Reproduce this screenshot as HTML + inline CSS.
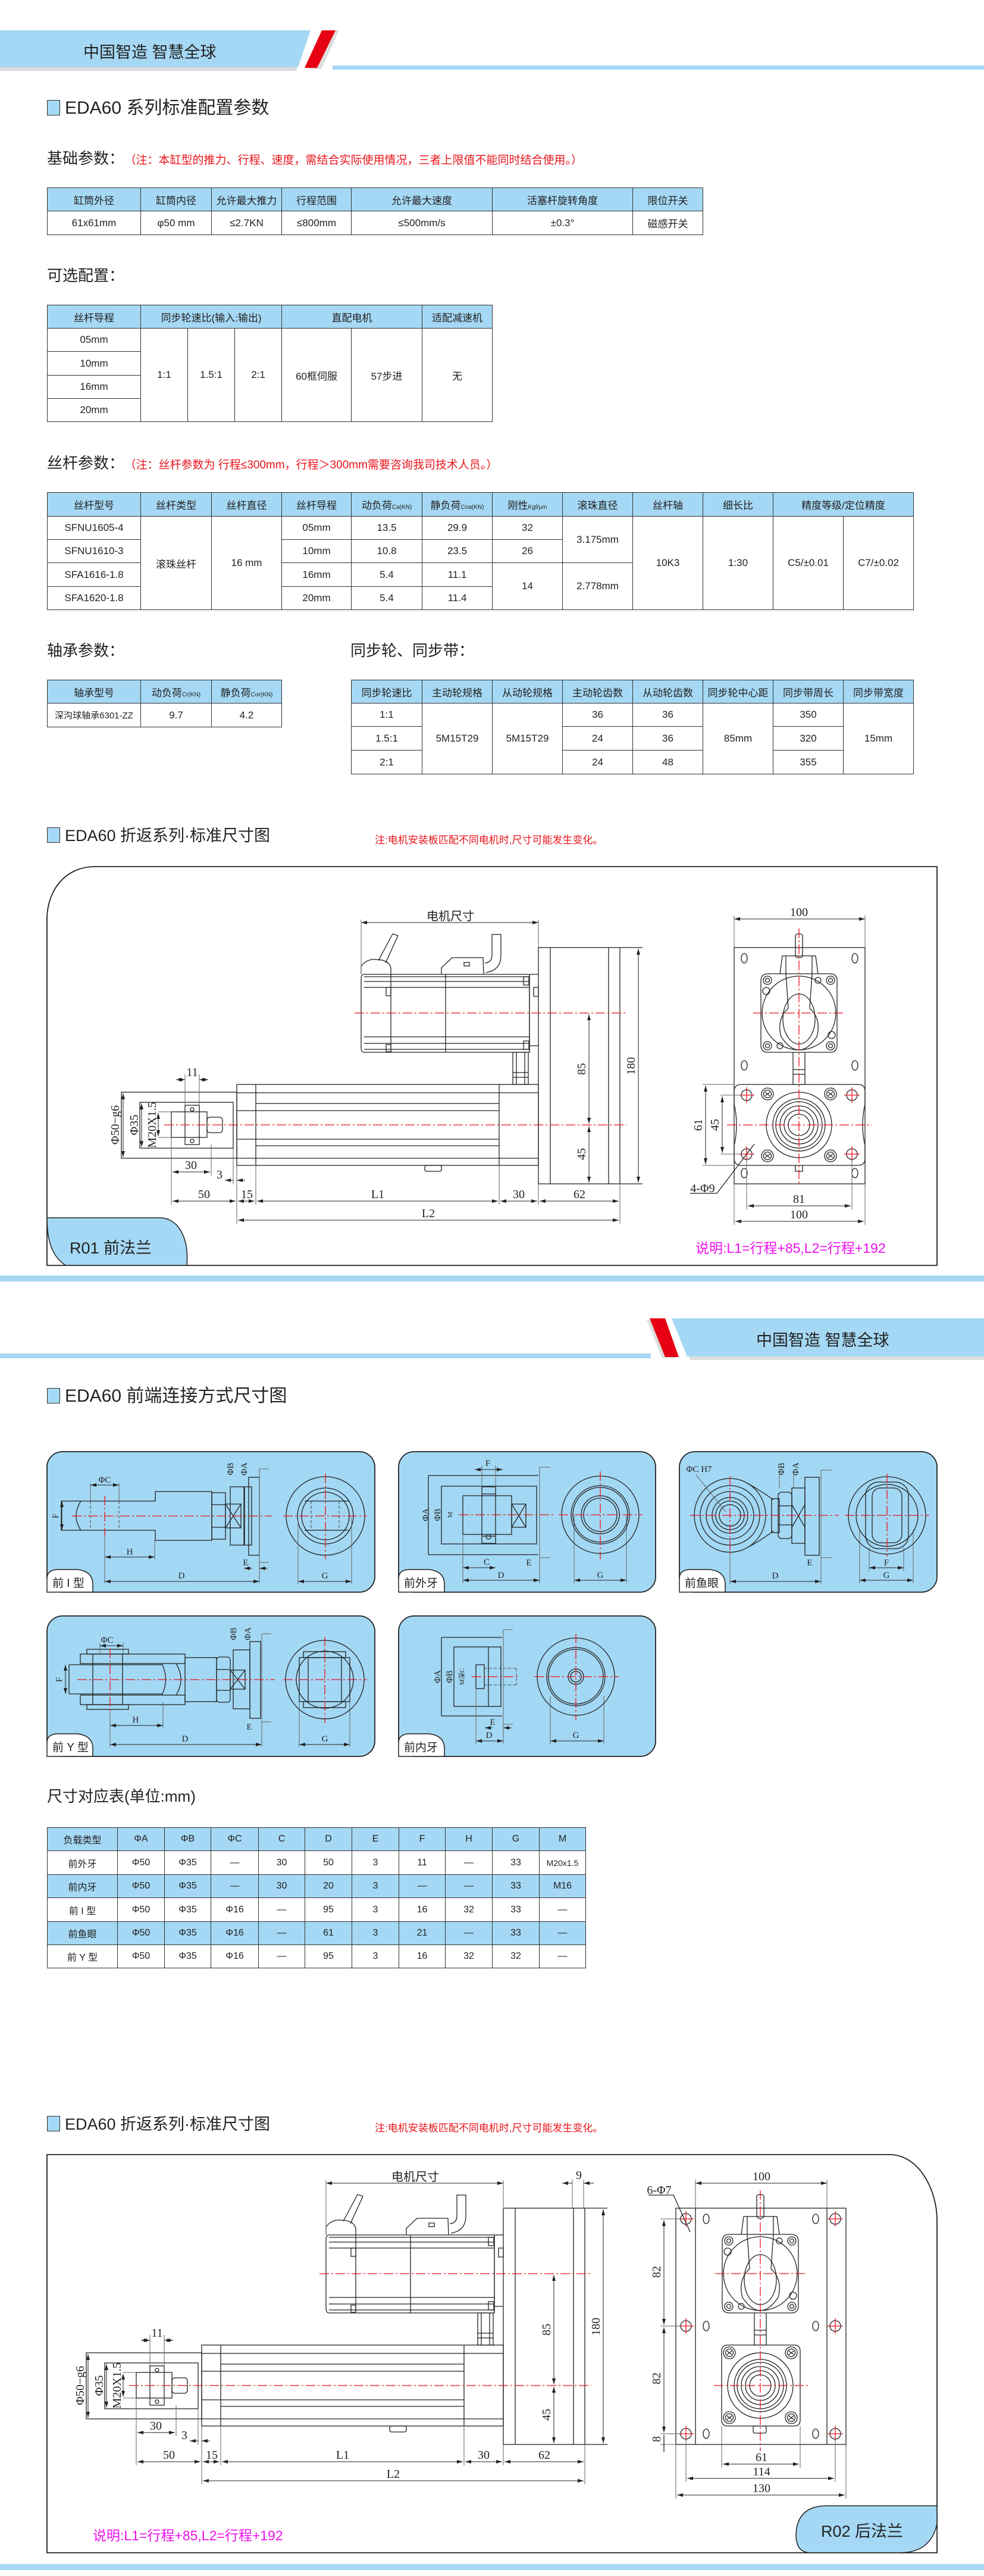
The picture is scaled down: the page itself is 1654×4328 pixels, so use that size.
<!DOCTYPE html>
<html><head><meta charset="utf-8">
<style>
html,body{margin:0;padding:0;background:#fff}
body{width:1654px;height:4328px;position:relative;overflow:hidden;font-family:"Liberation Sans","Noto Sans CJK SC",sans-serif;color:#222}
.a{position:absolute;white-space:nowrap}
.ttl{font-size:30px;line-height:34px}
.sq{display:inline-block;width:20px;height:24px;background:#a5d8f4;border:1.5px solid #333;vertical-align:-3px;margin-right:8px}
.sub{font-size:26px}
.red{color:#e8141b;font-size:19px}
table{position:absolute;border-collapse:collapse;table-layout:fixed;font-size:17px}
td{border:1.5px solid #333;text-align:center;padding:0;color:#222;white-space:nowrap;overflow:hidden}
td.h,tr.h td{background:#a5d8f4}
small{font-size:10px}
</style></head><body>

<!-- header 1 -->
<svg class="a" style="left:0;top:0" width="1654" height="130">
<polygon points="0,56 516,56 498,119 0,119" fill="#ddd"/>
<polygon points="0,51 522,51 501,113 0,113" fill="#a5d8f4"/>
<polygon points="546,51 570,51 540,116 519,116" fill="#ddd"/>
<polygon points="541,51 564,51 533,114 512,114" fill="#e60012"/>
<rect x="559" y="110" width="1095" height="7" fill="#a5d8f4"/>
</svg>
<div class="a" style="left:140px;top:66px;font-size:27px">中国智造 智慧全球</div>

<div class="a ttl" style="left:79px;top:165px"><span class="sq"></span>EDA60 系列标准配置参数</div>
<div class="a sub" style="left:79px;top:246px">基础参数：<span class="red" style="margin-left:10px">（注：本缸型的推力、行程、速度，需结合实际使用情况，三者上限值不能同时结合使用。）</span></div>

<table style="left:79px;top:315px;width:1102px">
<colgroup><col style="width:157px"><col style="width:119px"><col style="width:118px"><col style="width:117px"><col style="width:237px"><col style="width:236px"><col style="width:118px"></colgroup>
<tr class="h" style="height:39px"><td>缸筒外径</td><td>缸筒内径</td><td>允许最大推力</td><td>行程范围</td><td>允许最大速度</td><td>活塞杆旋转角度</td><td>限位开关</td></tr>
<tr style="height:40px"><td>61x61mm</td><td>φ50 mm</td><td>≤2.7KN</td><td>≤800mm</td><td>≤500mm/s</td><td>±0.3°</td><td>磁感开关</td></tr>
</table>

<div class="a sub" style="left:79px;top:443px">可选配置：</div>
<table style="left:79px;top:512px;width:748px">
<colgroup><col style="width:157px"><col style="width:79px"><col style="width:79px"><col style="width:79px"><col style="width:117px"><col style="width:119px"><col style="width:118px"></colgroup>
<tr class="h" style="height:39px"><td>丝杆导程</td><td colspan="3">同步轮速比(输入:输出)</td><td colspan="2">直配电机</td><td>适配减速机</td></tr>
<tr style="height:39px"><td>05mm</td><td rowspan="4">1:1</td><td rowspan="4">1.5:1</td><td rowspan="4">2:1</td><td rowspan="4">60框伺服</td><td rowspan="4">57步进</td><td rowspan="4">无</td></tr>
<tr style="height:40px"><td>10mm</td></tr>
<tr style="height:39px"><td>16mm</td></tr>
<tr style="height:39px"><td>20mm</td></tr>
</table>

<div class="a sub" style="left:79px;top:758px">丝杆参数：<span class="red" style="margin-left:10px">（注：丝杆参数为 行程≤300mm，行程＞300mm需要咨询我司技术人员。）</span></div>
<table style="left:79px;top:827px;width:1456px">
<colgroup><col style="width:157px"><col style="width:119px"><col style="width:118px"><col style="width:117px"><col style="width:119px"><col style="width:118px"><col style="width:118px"><col style="width:118px"><col style="width:118px"><col style="width:118px"><col style="width:118px"><col style="width:118px"></colgroup>
<tr class="h" style="height:40px"><td>丝杆型号</td><td>丝杆类型</td><td>丝杆直径</td><td>丝杆导程</td><td>动负荷<small>Ca(KN)</small></td><td>静负荷<small>Coa(KN)</small></td><td>刚性<small>Kgf/μm</small></td><td>滚珠直径</td><td>丝杆轴</td><td>细长比</td><td colspan="2">精度等级/定位精度</td></tr>
<tr style="height:39px"><td>SFNU1605-4</td><td rowspan="4">滚珠丝杆</td><td rowspan="4">16 mm</td><td>05mm</td><td>13.5</td><td>29.9</td><td>32</td><td rowspan="2">3.175mm</td><td rowspan="4">10K3</td><td rowspan="4">1:30</td><td rowspan="4">C5/±0.01</td><td rowspan="4">C7/±0.02</td></tr>
<tr style="height:39px"><td>SFNU1610-3</td><td>10mm</td><td>10.8</td><td>23.5</td><td>26</td></tr>
<tr style="height:40px"><td>SFA1616-1.8</td><td>16mm</td><td>5.4</td><td>11.1</td><td rowspan="2">14</td><td rowspan="2">2.778mm</td></tr>
<tr style="height:39px"><td>SFA1620-1.8</td><td>20mm</td><td>5.4</td><td>11.4</td></tr>
</table>

<div class="a sub" style="left:79px;top:1073px">轴承参数：</div>
<div class="a sub" style="left:589px;top:1073px">同步轮、同步带：</div>
<table style="left:79px;top:1142px;width:394px">
<colgroup><col style="width:157px"><col style="width:119px"><col style="width:118px"></colgroup>
<tr class="h" style="height:39px"><td>轴承型号</td><td>动负荷<small>Cr(KN)</small></td><td>静负荷<small>Cor(KN)</small></td></tr>
<tr style="height:40px"><td style="font-size:15px">深沟球轴承6301-ZZ</td><td>9.7</td><td>4.2</td></tr>
</table>
<table style="left:590px;top:1142px;width:945px">
<colgroup><col style="width:119px"><col style="width:118px"><col style="width:118px"><col style="width:118px"><col style="width:118px"><col style="width:118px"><col style="width:118px"><col style="width:118px"></colgroup>
<tr class="h" style="height:39px"><td>同步轮速比</td><td>主动轮规格</td><td>从动轮规格</td><td>主动轮齿数</td><td>从动轮齿数</td><td>同步轮中心距</td><td>同步带周长</td><td>同步带宽度</td></tr>
<tr style="height:39px"><td>1:1</td><td rowspan="3">5M15T29</td><td rowspan="3">5M15T29</td><td>36</td><td>36</td><td rowspan="3">85mm</td><td>350</td><td rowspan="3">15mm</td></tr>
<tr style="height:40px"><td>1.5:1</td><td>24</td><td>36</td><td>320</td></tr>
<tr style="height:40px"><td>2:1</td><td>24</td><td>48</td><td>355</td></tr>
</table>

<div class="a ttl" style="left:79px;top:1387px;font-size:27px"><span class="sq"></span>EDA60 折返系列·标准尺寸图</div>
<div class="a red" style="left:630px;top:1397px;font-size:17px">注:电机安装板匹配不同电机时,尺寸可能发生变化。</div>

<!-- header 2 -->
<svg class="a" style="left:0;top:2140px" width="1654" height="150">
<rect x="0" y="3" width="1654" height="10" fill="#a5d8f4"/>
<polygon points="1134,80 1654,80 1654,145 1160,145" fill="#ddd"/>
<polygon points="1129,75 1654,75 1654,139 1155,139" fill="#a5d8f4"/>
<polygon points="1087,77 1111,77 1137,142 1113,142" fill="#ddd"/>
<polygon points="1092,75 1118,75 1141,140 1118,140" fill="#e60012"/>
<rect x="0" y="134" width="1094" height="8" fill="#a5d8f4"/>
</svg>
<div class="a" style="left:1271px;top:2230px;font-size:27px">中国智造 智慧全球</div>
<div class="a ttl" style="left:79px;top:2329px"><span class="sq"></span>EDA60 前端连接方式尺寸图</div>

<div class="a sub" style="left:79px;top:2998px">尺寸对应表(单位:mm)</div>
<table style="left:79px;top:3070px;width:905px;font-size:16px">
<colgroup><col style="width:118px"><col style="width:79px"><col style="width:78px"><col style="width:80px"><col style="width:78px"><col style="width:79px"><col style="width:79px"><col style="width:78px"><col style="width:79px"><col style="width:79px"><col style="width:78px"></colgroup>
<tr class="h" style="height:39px"><td>负载类型</td><td>ΦA</td><td>ΦB</td><td>ΦC</td><td>C</td><td>D</td><td>E</td><td>F</td><td>H</td><td>G</td><td>M</td></tr>
<tr style="height:40px"><td>前外牙</td><td>Φ50</td><td>Φ35</td><td>—</td><td>30</td><td>50</td><td>3</td><td>11</td><td>—</td><td>33</td><td style="font-size:14px">M20x1.5</td></tr>
<tr class="h" style="height:39px"><td>前内牙</td><td>Φ50</td><td>Φ35</td><td>—</td><td>30</td><td>20</td><td>3</td><td>—</td><td>—</td><td>33</td><td>M16</td></tr>
<tr style="height:40px"><td>前 I 型</td><td>Φ50</td><td>Φ35</td><td>Φ16</td><td>—</td><td>95</td><td>3</td><td>16</td><td>32</td><td>33</td><td>—</td></tr>
<tr class="h" style="height:39px"><td>前鱼眼</td><td>Φ50</td><td>Φ35</td><td>Φ16</td><td>—</td><td>61</td><td>3</td><td>21</td><td>—</td><td>33</td><td>—</td></tr>
<tr style="height:39px"><td>前 Y 型</td><td>Φ50</td><td>Φ35</td><td>Φ16</td><td>—</td><td>95</td><td>3</td><td>16</td><td>32</td><td>32</td><td>—</td></tr>
</table>

<div class="a ttl" style="left:79px;top:3552px;font-size:27px"><span class="sq"></span>EDA60 折返系列·标准尺寸图</div>
<div class="a red" style="left:630px;top:3561px;font-size:17px">注:电机安装板匹配不同电机时,尺寸可能发生变化。</div>

<svg class="a" style="left:0;top:0" width="1654" height="4328" viewBox="0 0 1654 4328">
<defs>
<marker id="ar" viewBox="0 0 10 6" refX="10" refY="3" markerWidth="10" markerHeight="6" orient="auto-start-reverse" markerUnits="userSpaceOnUse"><path d="M0,0 L10,3 L0,6 Z" fill="#222"/></marker>
<style>
.l{stroke:#222;fill:none;stroke-width:1.3}
.g{stroke:#666;fill:none;stroke-width:1}
.d{stroke:#222;fill:none;stroke-width:1;marker-start:url(#ar);marker-end:url(#ar)}
.r{stroke:#e8141b;fill:none;stroke-width:1.3;stroke-dasharray:16 4 3 4}
.dash{stroke:#444;fill:none;stroke-width:1;stroke-dasharray:5 3}
.t{font-family:"Liberation Serif",serif;font-size:20px;fill:#222;text-anchor:middle}
.ts{font-family:"Liberation Serif",serif;font-size:15px;fill:#222;text-anchor:middle}
.ck{font-family:"Liberation Sans","Noto Sans CJK SC",sans-serif;fill:#222}
</style>
<g id="MF">
 <path class="l" d="M-52 -66 H52 Q64 -66 64 -54 V54 Q64 66 52 66 H-52 Q-64 66 -64 54 V-54 Q-64 -66 -52 -66 Z"/>
 <circle class="l" cx="0" cy="0" r="62"/>
 <path class="l" d="M-22 -66 L-18 -8 Q-38 10 -30 40 Q-15 62 0 62 Q15 62 30 40 Q38 10 18 -8 L22 -66"/>
 <ellipse class="l" cx="0" cy="10" rx="27" ry="42"/>
 <circle class="l" cx="-53" cy="-55" r="7"/><circle class="l" cx="-53" cy="-55" r="3.5"/>
 <circle class="l" cx="53" cy="-55" r="7"/><circle class="l" cx="53" cy="-55" r="3.5"/>
 <circle class="l" cx="-53" cy="55" r="7"/><circle class="l" cx="-53" cy="55" r="3.5"/>
 <circle class="l" cx="53" cy="55" r="7"/><circle class="l" cx="53" cy="55" r="3.5"/>
 <circle class="l" cx="-55" cy="-37" r="6"/><circle class="l" cx="55" cy="37" r="6"/>
 <circle class="l" cx="32" cy="-55" r="5"/><circle class="l" cx="-32" cy="55" r="5"/>
 <path class="l" d="M-32 -66 L-28 -96 H28 L32 -66 M-22 -96 V-66 M22 -96 V-66"/>
 <rect class="l" x="-6" y="-133" width="12" height="40" rx="4"/>
 <path class="l" d="M-10 66 V120 H10 V66 M-10 95 H10 M-10 103 H10"/>
</g>
<g id="BC">
 <circle class="l" r="55"/><circle class="l" r="44"/><circle class="l" r="39"/><circle class="l" r="32"/><circle class="l" r="25"/><circle class="l" r="18"/>
</g>
<g id="SC"><circle class="l" r="10"/><circle class="l" r="6.5"/><path class="l" d="M-4 -3 L4 3 M-4 3 L4 -3"/></g>
<g id="HC"><circle class="l" r="9"/><path class="r" style="stroke-dasharray:none" d="M-13 0 H13 M0 -13 V13"/></g>
</defs>

<g id="D1">
 <!-- motor -->
 <path class="l" d="M612 1637 H890 V1768 H612 Q607 1768 607 1760 V1645 Q607 1637 612 1637 Z"/>
 <path class="l" d="M612 1641 H890 M612 1649 H890 M612 1659 H890 M612 1742 H890 M612 1753 H890 M612 1763 H890 M657 1637 V1768 M749 1637 V1768 M890 1637 V1768 M890 1637 H905 M890 1757 H905"/>
 <rect class="l" x="649" y="1659" width="8" height="14"/><rect class="l" x="649" y="1755" width="8" height="12"/>
 <rect class="l" x="880" y="1641" width="9" height="14"/><rect class="l" x="880" y="1749" width="9" height="14"/>
 <rect class="l" x="897" y="1659" width="8" height="15"/>
 <path class="l" d="M607 1637 V1624 Q612 1615 625 1612 L630 1612 Q655 1612 657 1627 V1637"/>
 <path class="l" d="M636 1614 L660 1569 L669 1572 L648 1618"/>
 <path class="l" d="M742 1637 V1626 L760 1609 H812 L813 1637 M817 1634 Q842 1630 842 1605 V1570 H827 V1605 Q827 1617 815 1618"/>
 <rect class="l" x="780" y="1617" width="9" height="6"/>
 <path class="l" d="M862 1768 H888 V1822 H862 Z M862 1802 H888 M862 1810 H888 M868 1768 V1822 M882 1768 V1822"/>
 <!-- plate -->
 <rect class="l" x="905" y="1592" width="137" height="397"/>
 <path class="l" d="M925 1592 V1989 M1023 1592 V1989 M1042 1592 H1080 M1042 1989 H1080"/>
 <line class="d" x1="1073" y1="1594" x2="1073" y2="1987"/>
 <line class="d" x1="990" y1="1704" x2="990" y2="1888"/>
 <line class="d" x1="990" y1="1892" x2="990" y2="1987"/>
 <!-- cylinder -->
 <rect class="l" x="398" y="1822" width="507" height="136"/>
 <path class="l" d="M430 1822 V1958 M839 1822 V1958 M398 1836 H905 M430 1854 H839 M430 1866 H839 M430 1914 H839 M430 1925 H839 M398 1946 H905 M398 1866 H430 M398 1914 H430"/>
 <rect class="l" x="714" y="1958" width="28" height="10" rx="3"/>
 <!-- flange -->
 <rect class="l" x="204" y="1835" width="194" height="111"/>
 <rect class="l" x="235" y="1852" width="157" height="77"/>
 <rect class="l" x="288" y="1868" width="60" height="43"/>
 <rect class="l" x="311" y="1857" width="24" height="66"/>
 <rect class="l" x="348" y="1877" width="26" height="26" rx="5"/>
 <circle class="l" cx="323" cy="1864" r="3"/><circle class="l" cx="323" cy="1917" r="3"/>
 <!-- centerlines -->
 <line class="r" x1="596" y1="1702" x2="1053" y2="1702"/>
 <line class="r" x1="276" y1="1890" x2="1053" y2="1890"/>
 <!-- dims -->
 <line class="d" x1="607" y1="1550" x2="905" y2="1550"/><path class="g" d="M607 1545 V1637 M905 1545 V1592"/>
 <line class="d" x1="207" y1="1837" x2="207" y2="1944"/>
 <line class="d" x1="238" y1="1854" x2="238" y2="1927"/>
 <line class="d" x1="266" y1="1870" x2="266" y2="1909"/>
 <path class="g" d="M266 1868 H288 M266 1911 H288 M311 1805 V1857 M335 1805 V1857"/>
 <line class="d" x1="296" y1="1814" x2="311" y2="1814"/><line class="d" x1="350" y1="1814" x2="335" y2="1814"/>
 <path class="g" d="M288 1911 V2024 M355 1923 V1975 M392 1929 V1990 M398 1958 V2056 M430 1958 V2024 M839 1958 V2024 M905 1989 V2024 M1042 1989 V2056"/>
 <line class="d" x1="290" y1="1969" x2="353" y2="1969"/>
 <path class="d" d="M378 1983 H392 M412 1983 H398"/>
 <line class="d" x1="290" y1="2018" x2="396" y2="2018"/>
 <line class="d" x1="400" y1="2018" x2="428" y2="2018"/>
 <line class="d" x1="432" y1="2018" x2="837" y2="2018"/>
 <line class="d" x1="841" y1="2018" x2="903" y2="2018"/>
 <line class="d" x1="907" y1="2018" x2="1040" y2="2018"/>
 <line class="d" x1="400" y1="2050" x2="1040" y2="2050"/>
</g>
<use href="#D1" transform="translate(-59,2118)"/>

<!-- Frame 1 -->
<path class="l" style="stroke-width:1.8" d="M79 2126 V1545 C79 1495 110 1456 160 1456 H1575 V2126 Z"/>
<path d="M79 2046 H268 C300 2046 318 2080 314 2126 H110 C90 2112 79 2090 79 2046 Z" fill="#a5d8f4" stroke="#222" stroke-width="1.5"/>
<text class="ck" x="117" y="2106" font-size="27">R01 前法兰</text>
<text class="ck" x="1169" y="2105" font-size="23" style="fill:#ee11ee">说明:L1=行程+85,L2=行程+192</text>

<!-- drawing 1 texts -->
<text class="ck" x="757" y="1546" font-size="20" text-anchor="middle">电机尺寸</text>
<text class="t" transform="translate(1067,1791) rotate(-90)">180</text>
<text class="t" transform="translate(984,1796) rotate(-90)">85</text>
<text class="t" transform="translate(984,1939) rotate(-90)">45</text>
<text class="t" transform="translate(200,1890) rotate(-90)">Φ50−g6</text>
<text class="t" transform="translate(232,1890) rotate(-90)">Φ35</text>
<text class="t" transform="translate(262,1890) rotate(-90)">M20X1.5</text>
<text class="t" x="323" y="1808">11</text>
<text class="t" x="321" y="1964">30</text>
<text class="t" x="369" y="1980">3</text>
<text class="t" x="343" y="2013">50</text><text class="t" x="415" y="2013">15</text><text class="t" x="635" y="2013">L1</text><text class="t" x="872" y="2013">30</text><text class="t" x="974" y="2013">62</text>
<text class="t" x="720" y="2045">L2</text>

<!-- right view 1 -->
<rect class="l" x="1234" y="1592" width="220" height="397"/>
<use href="#MF" transform="translate(1343,1702)"/>
<path class="l" d="M1246 1822 H1442 Q1454 1822 1454 1834 V1855 Q1446 1890 1454 1925 V1946 Q1454 1958 1442 1958 H1246 Q1234 1958 1234 1946 V1925 Q1242 1890 1234 1855 V1834 Q1234 1822 1246 1822 Z"/>
<use href="#BC" transform="translate(1343,1890)"/>
<path class="l" d="M1337 1958 V1968 H1349 V1958"/>
<use href="#SC" transform="translate(1290,1838)"/><use href="#SC" transform="translate(1396,1838)"/>
<use href="#SC" transform="translate(1290,1942)"/><use href="#SC" transform="translate(1396,1942)"/>
<use href="#HC" transform="translate(1255,1840)"/><use href="#HC" transform="translate(1432,1840)"/>
<use href="#HC" transform="translate(1255,1939)"/><use href="#HC" transform="translate(1432,1939)"/>
<g class="l"><ellipse cx="1251" cy="1610" rx="5" ry="8"/><ellipse cx="1437" cy="1610" rx="5" ry="8"/><ellipse cx="1251" cy="1790" rx="5" ry="8"/><ellipse cx="1437" cy="1790" rx="5" ry="8"/><ellipse cx="1251" cy="1971" rx="5" ry="8"/><ellipse cx="1437" cy="1971" rx="5" ry="8"/></g>
<line class="r" x1="1343" y1="1560" x2="1343" y2="1990"/>
<line class="r" x1="1266" y1="1702" x2="1420" y2="1702"/>
<line class="r" x1="1222" y1="1890" x2="1466" y2="1890"/>
<line class="d" x1="1234" y1="1544" x2="1454" y2="1544"/><path class="g" d="M1234 1538 V1592 M1454 1538 V1592 M1181 1822 H1234 M1181 1958 H1234 M1211 1840 H1246 M1211 1939 H1246 M1255 1949 V2032 M1432 1949 V2032 M1234 1989 V2058 M1454 1989 V2058"/>
<line class="d" x1="1186" y1="1824" x2="1186" y2="1956"/>
<line class="d" x1="1214" y1="1842" x2="1214" y2="1937"/>
<line class="d" x1="1257" y1="2026" x2="1430" y2="2026"/>
<line class="d" x1="1236" y1="2052" x2="1452" y2="2052"/>
<path class="l" d="M1160 2005 H1205 L1268 1922" stroke-width="1"/>
<text class="t" x="1343" y="1539">100</text>
<text class="t" transform="translate(1180,1890) rotate(-90)">61</text>
<text class="t" transform="translate(1208,1890) rotate(-90)">45</text>
<text class="t" x="1343" y="2021">81</text>
<text class="t" x="1343" y="2047">100</text>
<text class="t" x="1181" y="2003">4-Φ9</text>

<!-- Panels -->
<g fill="#a3d8f4" stroke="#222" stroke-width="1.8">
<rect x="79" y="2439" width="551" height="236" rx="26"/>
<rect x="670" y="2439" width="432" height="236" rx="26"/>
<rect x="1142" y="2439" width="433" height="236" rx="26"/>
<rect x="79" y="2715" width="551" height="236" rx="26"/>
<rect x="670" y="2715" width="432" height="236" rx="26"/>
</g>
<g fill="#fff" stroke="#222" stroke-width="1.5">
<path d="M79 2675 V2652 Q79 2637 98 2637 H130 Q156 2640 156 2662 V2675 Z"/>
<path d="M670 2675 V2652 Q670 2637 689 2637 H721 Q747 2640 747 2662 V2675 Z"/>
<path d="M1142 2675 V2652 Q1142 2637 1161 2637 H1193 Q1219 2640 1219 2662 V2675 Z"/>
<path d="M79 2951 V2928 Q79 2913 98 2913 H130 Q156 2916 156 2938 V2951 Z"/>
<path d="M670 2951 V2928 Q670 2913 689 2913 H721 Q747 2916 747 2938 V2951 Z"/>
</g>
<g class="ck" font-size="19">
<text x="88" y="2666">前 I 型</text><text x="679" y="2666">前外牙</text><text x="1151" y="2666">前鱼眼</text>
<text x="88" y="2942">前 Y 型</text><text x="679" y="2942">前内牙</text>
</g>

<!-- panel1 -->
<path class="l" d="M103 2522 H261 V2506 H356 V2588 H261 V2571 H103 Z M136 2522 Q120 2547 136 2571"/>
<path class="dash" d="M152 2522 V2571 M200 2522 V2571"/>
<rect class="l" x="356" y="2508" width="23" height="78"/><path class="l" d="M356 2528 H379 M356 2566 H379"/>
<rect class="l" x="379" y="2527" width="26" height="40"/><path class="l" d="M379 2527 L405 2567 M405 2527 L379 2567"/>
<rect class="l" x="387" y="2498" width="23" height="98"/><rect class="l" x="411" y="2498" width="12" height="98"/><rect class="l" x="418" y="2482" width="18" height="131"/>
<path class="g" d="M436 2468 V2640 M436 2468 H452 M436 2625 H452 M152 2492 V2522 M200 2492 V2522 M176 2580 V2660 M260 2588 V2620 M436 2640 V2660"/>
<line class="r" x1="121" y1="2547" x2="457" y2="2547"/><line class="r" x1="176" y1="2513" x2="176" y2="2580"/>
<line class="d" x1="152" y1="2495" x2="200" y2="2495"/>
<line class="d" x1="176" y1="2616" x2="260" y2="2616"/>
<line class="d" x1="176" y1="2657" x2="436" y2="2657"/>
<line class="d" x1="104" y1="2522" x2="104" y2="2571"/>
<path class="d" d="M410 2635 H424 M450 2635 H436"/>
<circle class="l" cx="547" cy="2547" r="66"/><circle class="l" cx="547" cy="2547" r="47" stroke-width="2.2"/><circle class="l" cx="547" cy="2547" r="40"/>
<path class="l" d="M512 2522 H586 M512 2571 H586"/><path class="dash" d="M523 2522 V2571 M570 2522 V2571"/>
<line class="r" x1="547" y1="2476" x2="547" y2="2620"/><line class="r" x1="476" y1="2547" x2="617" y2="2547"/>
<path class="g" d="M501 2550 V2662 M591 2550 V2662"/>
<line class="d" x1="501" y1="2657" x2="591" y2="2657"/>
<text class="ts" x="176" y="2491">ΦC</text><text class="ts" x="218" y="2612">H</text><text class="ts" x="305" y="2652">D</text><text class="ts" x="413" y="2630">E</text><text class="ts" x="546" y="2652">G</text>
<text class="ts" transform="translate(98,2547) rotate(-90)">F</text>
<text class="ts" transform="translate(392,2468) rotate(-90)">ΦB</text><text class="ts" transform="translate(415,2468) rotate(-90)">ΦA</text>

<!-- panel2 -->
<path class="l" d="M720 2479 H905 M720 2612 H905 M720 2479 V2612"/>
<rect class="l" x="742" y="2497" width="160" height="97"/>
<rect class="l" x="778" y="2513" width="82" height="65"/>
<rect class="l" x="810" y="2498" width="23" height="95"/><path class="l" d="M810 2510 H833 M810 2581 H833"/>
<rect class="l" x="860" y="2527" width="24" height="39"/><path class="l" d="M860 2527 L884 2566 M884 2527 L860 2566"/>
<circle class="l" cx="821" cy="2582" r="4"/>
<path class="g" d="M907 2465 V2617 M907 2465 H925 M907 2617 H925 M810 2462 V2498 M833 2462 V2498 M778 2578 V2660 M907 2617 V2660 M965 2546 V2660 M1053 2546 V2660"/>
<line class="r" x1="772" y1="2545" x2="930" y2="2545"/>
<circle class="l" cx="1009" cy="2545" r="65"/><circle class="l" cx="1009" cy="2545" r="49"/><circle class="l" cx="1009" cy="2545" r="46" stroke-width="2"/><circle class="l" cx="1009" cy="2545" r="32"/><circle class="l" cx="1009" cy="2545" r="28"/>
<line class="r" x1="939" y1="2545" x2="1080" y2="2545"/><line class="r" x1="1009" y1="2472" x2="1009" y2="2620"/>
<line class="d" x1="778" y1="2634" x2="833" y2="2634"/><line class="d" x1="778" y1="2655" x2="907" y2="2655"/><line class="d" x1="965" y1="2655" x2="1053" y2="2655"/>
<line class="d" x1="798" y1="2469" x2="845" y2="2469"/>
<text class="ts" x="820" y="2463">F</text><text class="ts" x="818" y="2629">C</text><text class="ts" x="842" y="2651">D</text><text class="ts" x="889" y="2630">E</text><text class="ts" x="1009" y="2651">G</text>
<text class="ts" transform="translate(720,2545) rotate(-90)">ΦA</text><text class="ts" transform="translate(740,2545) rotate(-90)">ΦB</text><text class="ts" style="font-size:11px" transform="translate(760,2545) rotate(-90)">M</text>

<!-- panel3 -->
<ellipse class="l" cx="1227" cy="2546" rx="60" ry="62"/><circle class="l" cx="1227" cy="2546" r="50"/><circle class="l" cx="1227" cy="2546" r="40"/><circle class="l" cx="1227" cy="2546" r="30"/><circle class="l" cx="1227" cy="2546" r="24" stroke-width="2"/><circle class="l" cx="1227" cy="2546" r="18"/>
<path class="l" d="M1256 2492 Q1280 2505 1300 2520 M1256 2600 Q1280 2588 1300 2572"/>
<rect class="l" x="1297" y="2518" width="13" height="57"/>
<rect class="l" x="1308" y="2507" width="23" height="78" rx="6"/><path class="l" d="M1308 2530 H1331 M1308 2562 H1331"/>
<rect class="l" x="1331" y="2500" width="22" height="93"/><path class="l" d="M1331 2528 L1353 2566 M1353 2528 L1331 2566"/>
<rect class="l" x="1353" y="2482" width="24" height="131"/>
<path class="g" d="M1380 2470 V2630 M1380 2470 H1398 M1380 2617 H1398 M1227 2600 V2662 M1380 2630 V2662 M1445 2570 V2660 M1535 2570 V2660 M1461 2600 V2640 M1519 2600 V2640 M1310 2470 V2500 M1334 2470 V2500 M1170 2478 L1220 2540"/>
<line class="r" x1="1160" y1="2546" x2="1410" y2="2546"/><line class="r" x1="1227" y1="2480" x2="1227" y2="2612"/>
<circle class="l" cx="1491" cy="2546" r="65"/><circle class="l" cx="1491" cy="2546" r="52"/>
<rect class="l" x="1455" y="2490" width="72" height="112" rx="22"/><rect class="l" x="1466" y="2500" width="50" height="92" rx="14"/>
<line class="r" x1="1420" y1="2546" x2="1562" y2="2546"/><line class="r" x1="1491" y1="2476" x2="1491" y2="2615"/>
<line class="d" x1="1227" y1="2657" x2="1380" y2="2657"/><line class="d" x1="1445" y1="2655" x2="1535" y2="2655"/><line class="d" x1="1461" y1="2634" x2="1519" y2="2634"/>
<text class="ts" x="1175" y="2473">ΦC H7</text><text class="ts" x="1303" y="2652">D</text><text class="ts" x="1361" y="2630">E</text><text class="ts" x="1490" y="2630">F</text><text class="ts" x="1490" y="2651">G</text>
<text class="ts" transform="translate(1318,2468) rotate(-90)">ΦB</text><text class="ts" transform="translate(1342,2468) rotate(-90)">ΦA</text>

<!-- panel4 -->
<rect class="l" x="135" y="2779" width="176" height="16"/><rect class="l" x="135" y="2848" width="176" height="16"/>
<path class="l" d="M116 2797 H272 M116 2846 H272 M116 2797 V2846 M272 2795 Q285 2822 272 2848 M296 2795 Q312 2822 296 2848"/>
<rect class="l" x="146" y="2771" width="70" height="8"/><rect class="l" x="146" y="2864" width="70" height="8"/>
<path class="l" d="M156 2779 V2864 M206 2779 V2864"/>
<rect class="l" x="311" y="2785" width="53" height="74"/>
<rect class="l" x="364" y="2784" width="23" height="76" rx="5"/><path class="l" d="M364 2805 H387 M364 2840 H387"/>
<rect class="l" x="387" y="2806" width="25" height="32"/><path class="l" d="M387 2806 L412 2838 M412 2806 L387 2838"/>
<rect class="l" x="392" y="2772" width="28" height="99"/><rect class="l" x="420" y="2758" width="18" height="129"/>
<path class="g" d="M440 2745 V2905 M440 2745 H456 M440 2893 H456 M168 2760 V2779 M207 2760 V2779 M185 2872 V2935 M274 2860 V2903 M440 2905 V2935 M503 2830 V2935 M588 2830 V2935"/>
<line class="r" x1="130" y1="2822" x2="462" y2="2822"/><line class="r" x1="185" y1="2770" x2="185" y2="2875"/>
<circle class="l" cx="546" cy="2822" r="66"/><circle class="l" cx="546" cy="2822" r="48"/>
<rect class="l" x="503" y="2785" width="85" height="74"/><rect class="l" x="510" y="2775" width="71" height="10"/><rect class="l" x="510" y="2859" width="71" height="10"/>
<path class="l" d="M518 2785 V2859 M574 2785 V2859"/>
<line class="r" x1="476" y1="2822" x2="617" y2="2822"/><line class="r" x1="546" y1="2750" x2="546" y2="2895"/>
<line class="d" x1="168" y1="2765" x2="207" y2="2765"/><line class="d" x1="185" y1="2899" x2="274" y2="2899"/><line class="d" x1="185" y1="2931" x2="440" y2="2931"/><line class="d" x1="503" y1="2931" x2="588" y2="2931"/>
<line class="d" x1="110" y1="2797" x2="110" y2="2846"/>
<text class="ts" x="180" y="2760">ΦC</text><text class="ts" x="228" y="2894">H</text><text class="ts" x="311" y="2926">D</text><text class="ts" x="419" y="2906">E</text><text class="ts" x="546" y="2926">G</text>
<text class="ts" transform="translate(104,2822) rotate(-90)">F</text>
<text class="ts" transform="translate(397,2745) rotate(-90)">ΦB</text><text class="ts" transform="translate(421,2745) rotate(-90)">ΦA</text>

<!-- panel5 -->
<path class="l" d="M742 2751 H844 M742 2883 H844 M742 2751 V2883"/>
<rect class="l" x="763" y="2767" width="79" height="100"/><path class="l" d="M821 2767 V2867"/>
<rect class="l" x="800" y="2797" width="14" height="40"/><path class="dash" d="M814 2803 H868 M814 2831 H868 M868 2803 V2831"/>
<path class="g" d="M846 2738 V2897 M846 2738 H862 M846 2897 H862 M800 2837 V2930 M846 2897 V2930 M925 2850 V2930 M1015 2850 V2930"/>
<line class="r" x1="793" y1="2817" x2="870" y2="2817"/>
<circle class="l" cx="968" cy="2817" r="65"/><circle class="l" cx="968" cy="2817" r="49"/><circle class="l" cx="968" cy="2817" r="46" stroke-width="2"/><circle class="l" cx="968" cy="2817" r="13"/><circle class="l" cx="968" cy="2817" r="9"/>
<line class="r" x1="898" y1="2817" x2="1040" y2="2817"/><line class="r" x1="968" y1="2745" x2="968" y2="2890"/>
<line class="d" x1="800" y1="2925" x2="846" y2="2925"/><line class="d" x1="925" y1="2925" x2="1015" y2="2925"/>
<path class="d" d="M815 2903 H828 M860 2903 H846"/>
<text class="ts" x="822" y="2920">D</text><text class="ts" x="828" y="2898">E</text><text class="ts" x="968" y="2920">G</text>
<text class="ts" transform="translate(740,2817) rotate(-90)">ΦA</text><text class="ts" transform="translate(760,2817) rotate(-90)">ΦB</text><text class="ts" style="font-size:11px" transform="translate(780,2817) rotate(-90)">M深C</text>

<!-- Frame 2 -->
<path class="l" style="stroke-width:1.8" d="M79 3620 H1495 C1545 3620 1575 3680 1575 3730 V4289 H79 Z"/>
<path d="M1575 4210 V4240 Q1565 4289 1512 4289 H1362 Q1338 4289 1338 4258 Q1340 4210 1390 4210 Z" fill="#a5d8f4" stroke="#222" stroke-width="1.5"/>
<text class="ck" x="1380" y="4262" font-size="27">R02 后法兰</text>
<text class="ck" x="156" y="4268" font-size="23" style="fill:#ee11ee">说明:L1=行程+85,L2=行程+192</text>
<rect x="0" y="4308" width="1654" height="10" fill="#a5d8f4"/>

<!-- drawing 2 texts -->
<text class="ck" x="698" y="3664" font-size="20" text-anchor="middle">电机尺寸</text>
<path class="g" d="M962 3662 V3710 M981 3662 V3710"/>
<path class="d" d="M945 3668 H962 M998 3668 H981"/>
<text class="t" x="973" y="3661">9</text>
<text class="t" transform="translate(1008,3909) rotate(-90)">180</text>
<text class="t" transform="translate(925,3914) rotate(-90)">85</text>
<text class="t" transform="translate(925,4057) rotate(-90)">45</text>
<text class="t" transform="translate(141,4008) rotate(-90)">Φ50−g6</text>
<text class="t" transform="translate(173,4008) rotate(-90)">Φ35</text>
<text class="t" transform="translate(203,4008) rotate(-90)">M20X1.5</text>
<text class="t" x="264" y="3926">11</text>
<text class="t" x="262" y="4082">30</text>
<text class="t" x="310" y="4098">3</text>
<text class="t" x="284" y="4131">50</text><text class="t" x="356" y="4131">15</text><text class="t" x="576" y="4131">L1</text><text class="t" x="813" y="4131">30</text><text class="t" x="915" y="4131">62</text>
<text class="t" x="661" y="4163">L2</text>

<!-- right view 2 -->
<rect class="l" x="1136" y="3710" width="286" height="397"/>
<path class="l" d="M1169 3710 V4107 M1390 3710 V4107"/>
<use href="#MF" transform="translate(1278,3820)"/>
<path class="l" d="M1223 3940 H1335 Q1345 3940 1345 3950 V4066 Q1345 4076 1335 4076 H1223 Q1213 4076 1213 4066 V3950 Q1213 3940 1223 3940 Z"/>
<use href="#BC" transform="translate(1278,4008)"/>
<use href="#SC" transform="translate(1226,3953)"/><use href="#SC" transform="translate(1330,3953)"/>
<use href="#SC" transform="translate(1226,4062)"/><use href="#SC" transform="translate(1330,4062)"/>
<rect class="l" x="1266" y="4076" width="22" height="12" rx="3"/>
<use href="#HC" transform="translate(1153,3728)"/><use href="#HC" transform="translate(1404,3728)"/>
<use href="#HC" transform="translate(1153,3908)"/><use href="#HC" transform="translate(1404,3908)"/>
<use href="#HC" transform="translate(1153,4089)"/><use href="#HC" transform="translate(1404,4089)"/>
<g class="l"><ellipse cx="1187" cy="3728" rx="5" ry="8"/><ellipse cx="1371" cy="3728" rx="5" ry="8"/><ellipse cx="1187" cy="3908" rx="5" ry="8"/><ellipse cx="1371" cy="3908" rx="5" ry="8"/><ellipse cx="1187" cy="4089" rx="5" ry="8"/><ellipse cx="1371" cy="4089" rx="5" ry="8"/></g>
<line class="r" x1="1278" y1="3680" x2="1278" y2="4118"/>
<line class="r" x1="1202" y1="3820" x2="1356" y2="3820"/>
<line class="r" x1="1200" y1="4008" x2="1358" y2="4008"/>
<path class="g" d="M1169 3662 V3710 M1390 3662 V3710 M1110 3728 H1144 M1110 3908 H1144 M1110 4089 H1144 M1110 4107 H1136 M1213 4076 V4146 M1345 4076 V4146 M1153 4098 V4170 M1404 4098 V4170 M1136 4107 V4198 M1422 4107 V4198"/>
<line class="d" x1="1169" y1="3668" x2="1390" y2="3668"/>
<line class="d" x1="1116" y1="3730" x2="1116" y2="3906"/>
<line class="d" x1="1116" y1="3910" x2="1116" y2="4087"/>
<path class="l" d="M1116 4091 V4120" stroke-width="1"/>
<line class="d" x1="1215" y1="4140" x2="1343" y2="4140"/>
<line class="d" x1="1155" y1="4164" x2="1402" y2="4164"/>
<line class="d" x1="1138" y1="4192" x2="1420" y2="4192"/>
<path class="l" d="M1090 3688 H1132 L1160 3750" stroke-width="1"/>
<text class="t" x="1280" y="3663">100</text>
<text class="t" x="1108" y="3686">6-Φ7</text>
<text class="t" transform="translate(1110,3817) rotate(-90)">82</text>
<text class="t" transform="translate(1110,3996) rotate(-90)">82</text>
<text class="t" transform="translate(1110,4098) rotate(-90)">8</text>
<text class="t" x="1280" y="4135">61</text>
<text class="t" x="1280" y="4159">114</text>
<text class="t" x="1280" y="4187">130</text>
</svg>
</body></html>
